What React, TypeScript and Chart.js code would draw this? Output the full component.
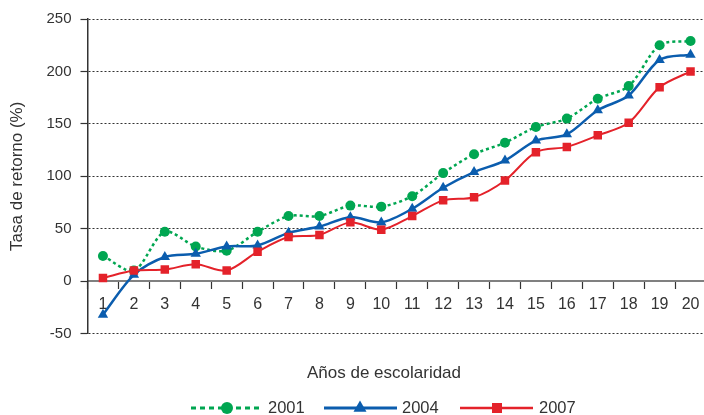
import React, { useEffect, useRef } from "react";
import { Chart, registerables } from "chart.js";

Chart.register(...registerables);

const categories = ["1", "2", "3", "4", "5", "6", "7", "8", "9", "10", "11", "12", "13", "14", "15", "16", "17", "18", "19", "20"];
const series2001 = [24, 10, 47, 33, 29, 47, 62, 62, 72, 71, 81, 103, 121, 132, 147, 155, 174, 186, 225, 229];
const series2004 = [-32, 6, 23, 26, 33, 34, 46, 52, 61, 56, 69, 89, 104, 115, 134, 140, 163, 177, 211, 216];
const series2007 = [3, 10, 11, 16, 10, 28, 42, 44, 56, 49, 62, 77, 80, 96, 123, 128, 139, 151, 185, 200];
const yTicks = [-50, 0, 50, 100, 150, 200, 250];
const seriesNames = ["2001", "2004", "2007"];
const xTitle = "Años de escolaridad";
const yTitle = "Tasa de retorno (%)";

const FONT = '"Liberation Sans", Arial, Helvetica, sans-serif';
const TEXT = "#333333";
const GREEN = "#00A651";
const BLUE = "#0B5DAE";
const RED = "#E4222A";

function drawMarker(ctx: CanvasRenderingContext2D, style: string, x: number, y: number, r: number, color: string) {
  ctx.fillStyle = color;
  ctx.beginPath();
  if (style === "circle") {
    ctx.arc(x, y, r, 0, Math.PI * 2);
  } else if (style === "triangle") {
    const h = r * 1.5;
    const w = r * Math.sqrt(3);
    ctx.moveTo(x, y - r);
    ctx.lineTo(x + w / 2, y - r + h);
    ctx.lineTo(x - w / 2, y - r + h);
    ctx.closePath();
  } else {
    ctx.rect(x - r, y - r, r * 2, r * 2);
  }
  ctx.fill();
}

const overlayPlugin = {
  id: "overlay",
  afterDraw(chart: any) {
    const ctx: CanvasRenderingContext2D = chart.ctx;
    ctx.save();
    ctx.font = `17px ${FONT}`;
    ctx.fillStyle = TEXT;
    ctx.textAlign = "center";
    ctx.textBaseline = "middle";
    ctx.fillText(xTitle, 384, 373.5);

    const items = [
      { x0: 191, x1: 262, mx: 227, tx: 268, color: GREEN, dash: [5, 4], width: 3, style: "circle", r: 6 },
      { x0: 324, x1: 397, mx: 360, tx: 402, color: BLUE, dash: [], width: 3, style: "triangle", r: 7.5 },
      { x0: 460, x1: 533, mx: 497, tx: 539, color: RED, dash: [], width: 2.5, style: "rect", r: 5 },
    ];
    const ly = 408;
    items.forEach((it, i) => {
      ctx.save();
      ctx.strokeStyle = it.color;
      ctx.lineWidth = it.width;
      ctx.setLineDash(it.dash);
      ctx.beginPath();
      ctx.moveTo(it.x0, ly);
      ctx.lineTo(it.x1, ly);
      ctx.stroke();
      ctx.restore();
      drawMarker(ctx, it.style, it.mx, ly, it.r, it.color);
      ctx.fillStyle = TEXT;
      ctx.textAlign = "left";
      ctx.textBaseline = "middle";
      ctx.font = `16.5px ${FONT}`;
      ctx.fillText(seriesNames[i], it.tx, ly);
    });
    ctx.restore();
  },
};

export default function App() {
  const ref = useRef<HTMLCanvasElement>(null);

  useEffect(() => {
    document.body.style.margin = "0";
    const font = { family: FONT, size: 15 };
    const chart = new Chart(ref.current as HTMLCanvasElement, {
      type: "line",
      data: {
        labels: categories,
        datasets: [
          {
            label: seriesNames[0],
            data: series2001,
            borderColor: GREEN,
            backgroundColor: GREEN,
            borderWidth: 2.5,
            borderDash: [3, 3],
            pointStyle: "circle",
            pointRadius: 5,
            pointBorderWidth: 0,
            tension: 0.3,
            order: 2,
          },
          {
            label: seriesNames[1],
            data: series2004,
            borderColor: BLUE,
            backgroundColor: BLUE,
            borderWidth: 2.5,
            pointStyle: "triangle",
            pointRadius: 6,
            pointBorderWidth: 0,
            tension: 0.3,
            order: 1,
          },
          {
            label: seriesNames[2],
            data: series2007,
            borderColor: RED,
            backgroundColor: RED,
            borderWidth: 2,
            pointStyle: "rect",
            pointRadius: 6,
            pointBorderWidth: 0,
            tension: 0.3,
            order: 0,
          },
        ],
      },
      options: {
        animation: false,
        responsive: false,
        devicePixelRatio: 1,
        layout: { padding: { top: 19, right: 2.5, bottom: 81.5, left: 0 } },
        plugins: {
          legend: { display: false },
          tooltip: { enabled: false },
          title: { display: false },
        },
        scales: {
          x: {
            type: "category",
            position: { y: 0 } as any,
            offset: true,
            grid: {
              display: true,
              drawOnChartArea: false,
              drawTicks: true,
              tickLength: 7,
              tickColor: "#333333",
              tickWidth: 1.2,
              offset: true,
            },
            border: { display: true, color: "#808080", width: 2 },
            ticks: { font: { family: FONT, size: 16 }, color: TEXT, padding: 7, maxRotation: 0, autoSkip: false },
            afterFit: (s: any) => {
              s.height = 0;
            },
          },
          y: {
            type: "linear",
            position: "left",
            min: -50,
            max: 250,
            afterBuildTicks: (s: any) => {
              s.ticks = yTicks.map((v) => ({ value: v }));
            },
            ticks: { font, color: TEXT, padding: 9 },
            grid: {
              color: (c: any) => (c.tick && c.tick.value === 0 ? "rgba(0,0,0,0)" : "#333333"),
              lineWidth: 1,
              drawTicks: true,
              tickLength: 7,
              tickColor: "#333333",
              tickWidth: 1.2,
            },
            border: { display: true, color: "#333333", width: 1.5, dash: [2, 2] },
            title: { display: true, text: yTitle, font: { family: FONT, size: 17 }, color: TEXT, padding: { top: 7, bottom: 0 } },
            afterFit: (s: any) => {
              s.width = 87.5;
            },
          },
        },
      },
      plugins: [overlayPlugin],
    });
    return () => chart.destroy();
  }, []);

  return (
    <div style={{ width: 704, height: 415, overflow: "hidden", position: "relative", background: "#ffffff" }}>
      <canvas ref={ref} width={712} height={415} style={{ display: "block", width: 712, height: 415 }} />
    </div>
  );
}
